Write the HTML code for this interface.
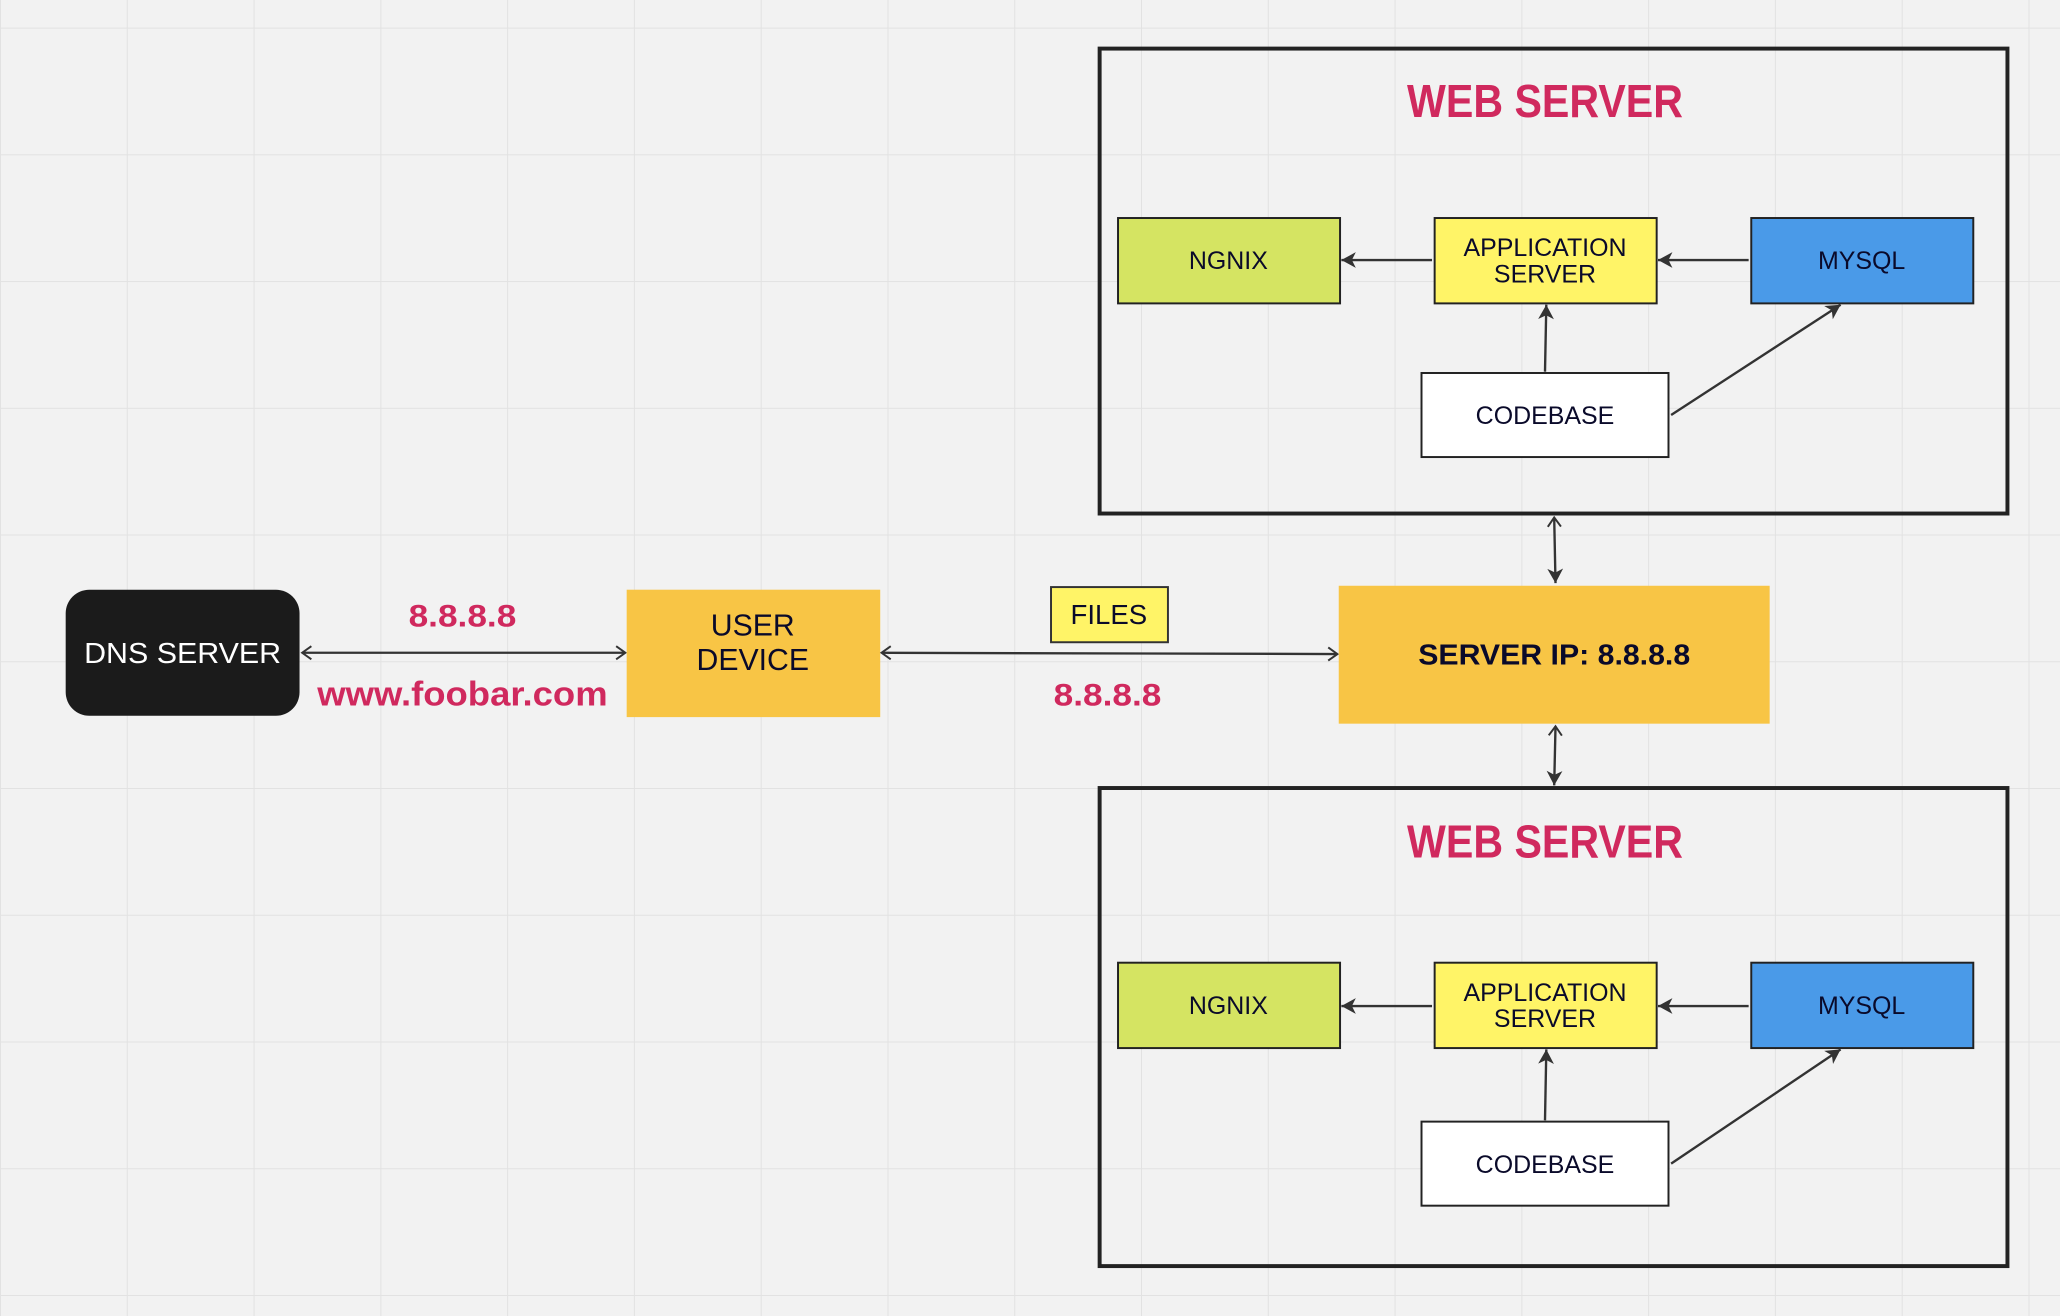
<!DOCTYPE html>
<html><head><meta charset="utf-8"><style>
html,body{margin:0;padding:0;background:#f2f2f2;}
svg{display:block;}
text{font-family:"Liberation Sans",sans-serif;}
</style></head><body>
<svg width="2060" height="1316" viewBox="0 0 1568 1002" preserveAspectRatio="none" xmlns="http://www.w3.org/2000/svg">
<defs>
<pattern id="g" x="0" y="21" width="96.5" height="96.5" patternUnits="userSpaceOnUse">
<path d="M0 0H96.5M0 0V96.5" stroke="#e2e2e2" stroke-width="1.5" fill="none"/>
</pattern>
<marker id="open" markerWidth="12" markerHeight="12" refX="9" refY="6" orient="auto-start-reverse" markerUnits="userSpaceOnUse">
<path d="M2 1L9 6L2 11" fill="none" stroke="#333" stroke-width="1.5"/>
</marker>
<marker id="fill" markerWidth="14" markerHeight="14" refX="12" refY="7" orient="auto-start-reverse" markerUnits="userSpaceOnUse">
<path d="M1 1L12 7L1 13L4 7Z" fill="#333"/>
</marker>
</defs>
<rect width="1568" height="1002" fill="#f2f2f2"/>
<rect x="0" y="0" width="1568" height="1002" fill="url(#g)"/>

<rect x="50" y="449" width="178" height="96" rx="18" fill="#1b1b1b"/>
<text x="139" y="505" font-size="22" fill="#fff" text-anchor="middle" textLength="150" lengthAdjust="spacingAndGlyphs">DNS SERVER</text>
<line x1="230" y1="497" x2="476" y2="497" stroke="#333" stroke-width="1.8" marker-start="url(#open)" marker-end="url(#open)"/>
<text x="352" y="477" font-size="24" font-weight="bold" fill="#d0295e" text-anchor="middle" textLength="82" lengthAdjust="spacingAndGlyphs">8.8.8.8</text>
<text x="352" y="537" font-size="26" font-weight="bold" fill="#d0295e" text-anchor="middle" textLength="221" lengthAdjust="spacingAndGlyphs">www.foobar.com</text>

<rect x="477" y="449" width="193" height="97" fill="#f8c545"/>
<text x="573" y="484" font-size="23" fill="#0a0a2a" text-anchor="middle">USER</text>
<text x="573" y="510" font-size="23" fill="#0a0a2a" text-anchor="middle">DEVICE</text>

<line x1="671" y1="497" x2="1018" y2="498" stroke="#333" stroke-width="1.8" marker-start="url(#open)" marker-end="url(#open)"/>
<rect x="800" y="447" width="89" height="42" fill="#fff467" stroke="#333" stroke-width="1.5"/>
<text x="844" y="475" font-size="21" fill="#0a0a2a" text-anchor="middle">FILES</text>
<text x="843" y="537" font-size="24" font-weight="bold" fill="#d0295e" text-anchor="middle" textLength="82" lengthAdjust="spacingAndGlyphs">8.8.8.8</text>

<rect x="1019" y="446" width="328" height="105" fill="#f8c545"/>
<text x="1183" y="506" font-size="22" font-weight="bold" fill="#0a0a2a" text-anchor="middle" textLength="207" lengthAdjust="spacingAndGlyphs">SERVER IP: 8.8.8.8</text>

<line x1="1183" y1="394" x2="1184" y2="444" stroke="#333" stroke-width="1.8" marker-start="url(#open)" marker-end="url(#fill)"/>
<line x1="1184" y1="553" x2="1183" y2="598" stroke="#333" stroke-width="1.8" marker-start="url(#open)" marker-end="url(#fill)"/>

<g>
<rect x="837" y="37" width="691" height="354" fill="none" stroke="#222" stroke-width="3"/>
<text x="1176" y="89" font-size="35" font-weight="bold" fill="#d0295e" text-anchor="middle" textLength="210" lengthAdjust="spacingAndGlyphs">WEB SERVER</text>
<rect x="851" y="166" width="169" height="65" fill="#d5e462" stroke="#222" stroke-width="1.5"/>
<text x="935" y="205" font-size="19" fill="#0a0a2a" text-anchor="middle">NGNIX</text>
<rect x="1092" y="166" width="169" height="65" fill="#fff467" stroke="#222" stroke-width="1.5"/>
<text x="1176" y="195" font-size="19" fill="#0a0a2a" text-anchor="middle">APPLICATION</text>
<text x="1176" y="215" font-size="19" fill="#0a0a2a" text-anchor="middle">SERVER</text>
<rect x="1333" y="166" width="169" height="65" fill="#4a9ae8" stroke="#222" stroke-width="1.5"/>
<text x="1417" y="205" font-size="19" fill="#0a0a2a" text-anchor="middle">MYSQL</text>
<rect x="1082" y="284" width="188" height="64" fill="#fff" stroke="#222" stroke-width="1.5"/>
<text x="1176" y="323" font-size="19" fill="#0a0a2a" text-anchor="middle">CODEBASE</text>
<line x1="1090" y1="198" x2="1021" y2="198" stroke="#333" stroke-width="1.8" marker-end="url(#fill)"/>
<line x1="1331" y1="198" x2="1262" y2="198" stroke="#333" stroke-width="1.8" marker-end="url(#fill)"/>
<line x1="1176" y1="283" x2="1177" y2="232" stroke="#333" stroke-width="1.8" marker-end="url(#fill)"/>
<line x1="1272" y1="316" x2="1401" y2="232" stroke="#333" stroke-width="1.8" marker-end="url(#fill)"/>
</g>

<g>
<rect x="837" y="600" width="691" height="364" fill="none" stroke="#222" stroke-width="3"/>
<text x="1176" y="653" font-size="35" font-weight="bold" fill="#d0295e" text-anchor="middle" textLength="210" lengthAdjust="spacingAndGlyphs">WEB SERVER</text>
<rect x="851" y="733" width="169" height="65" fill="#d5e462" stroke="#222" stroke-width="1.5"/>
<text x="935" y="772" font-size="19" fill="#0a0a2a" text-anchor="middle">NGNIX</text>
<rect x="1092" y="733" width="169" height="65" fill="#fff467" stroke="#222" stroke-width="1.5"/>
<text x="1176" y="762" font-size="19" fill="#0a0a2a" text-anchor="middle">APPLICATION</text>
<text x="1176" y="782" font-size="19" fill="#0a0a2a" text-anchor="middle">SERVER</text>
<rect x="1333" y="733" width="169" height="65" fill="#4a9ae8" stroke="#222" stroke-width="1.5"/>
<text x="1417" y="772" font-size="19" fill="#0a0a2a" text-anchor="middle">MYSQL</text>
<rect x="1082" y="854" width="188" height="64" fill="#fff" stroke="#222" stroke-width="1.5"/>
<text x="1176" y="893" font-size="19" fill="#0a0a2a" text-anchor="middle">CODEBASE</text>
<line x1="1090" y1="766" x2="1021" y2="766" stroke="#333" stroke-width="1.8" marker-end="url(#fill)"/>
<line x1="1331" y1="766" x2="1262" y2="766" stroke="#333" stroke-width="1.8" marker-end="url(#fill)"/>
<line x1="1176" y1="853" x2="1177" y2="799" stroke="#333" stroke-width="1.8" marker-end="url(#fill)"/>
<line x1="1272" y1="886" x2="1401" y2="799" stroke="#333" stroke-width="1.8" marker-end="url(#fill)"/>
</g>
</svg>
</body></html>
